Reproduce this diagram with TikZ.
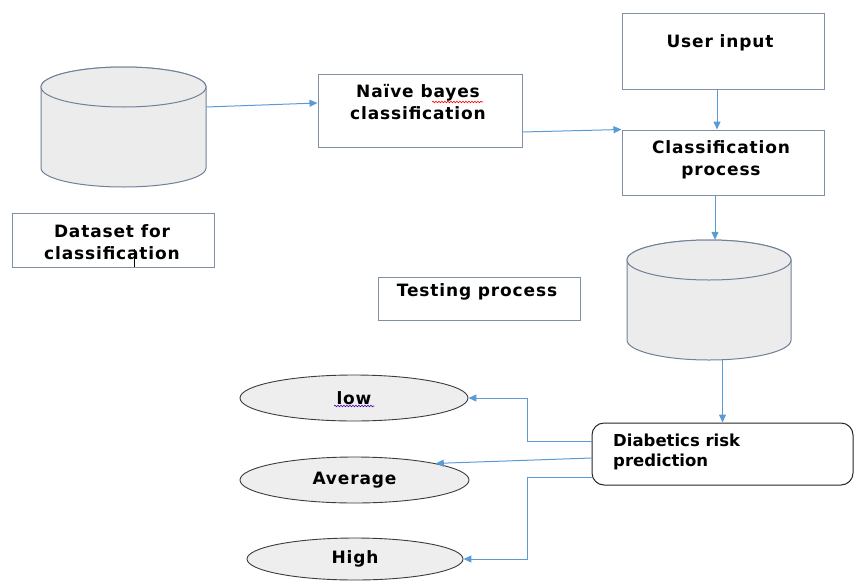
\documentclass[tikz,border=0pt]{standalone}
\usepackage{fontspec}
\newfontfamily\dfont{DejaVu Sans}[LetterSpace=5]
\newfontfamily\dfontn{DejaVu Sans}
\usetikzlibrary{arrows.meta,shapes.geometric,decorations.pathmorphing,calc}
\definecolor{boxc}{RGB}{128,143,165}
\definecolor{arrc}{RGB}{91,155,213}
\definecolor{cylfill}{RGB}{236,236,236}
\definecolor{cylline}{RGB}{112,128,152}
\definecolor{ellfill}{RGB}{238,238,238}
\definecolor{ellline}{RGB}{60,60,60}
\tikzset{
  boxnode/.style={draw=boxc, line width=1pt, fill=white, inner sep=0pt, rectangle},
  txt/.style={font=\dfont\bfseries\fontsize{17}{22}\selectfont, align=center, inner sep=0pt},
  ellnode/.style={ellipse, draw=ellline, fill=ellfill, line width=0.9pt, inner sep=0pt, font=\dfont\bfseries\fontsize{17}{22}\selectfont},
  cyl/.style={draw=cylline, fill=cylfill, line width=1pt},
  arr/.style={draw=arrc, line width=1pt, -{Triangle[length=8pt,width=7pt]}},
  ghost/.style={draw=none, inner sep=0pt, rectangle},
}
\begin{document}
\begin{tikzpicture}[x=1pt,y=-1pt]
\useasboundingbox (0,0) rectangle (856,581);
% cylinder 1
\filldraw[cyl] (41,87) -- (41,168) arc[start angle=180,end angle=360,x radius=82.5pt,y radius=19pt] -- (206,87) arc[start angle=0,end angle=180,x radius=82.5pt,y radius=20pt] -- cycle;
\draw[cyl] (123.5,87) ellipse[x radius=82.5pt,y radius=20pt];
\node[ghost, minimum width=165pt, minimum height=120pt] (c1) at (123.5,127) {};
% cylinder 2
\filldraw[cyl] (627,260) -- (627,340) arc[start angle=180,end angle=360,x radius=82pt,y radius=20pt] -- (791,260) arc[start angle=0,end angle=180,x radius=82pt,y radius=20pt] -- cycle;
\draw[cyl] (709,260) ellipse[x radius=82pt,y radius=20pt];
\node[ghost, minimum width=164pt, minimum height=120pt] (c2) at (709,300) {};
% boxes
\node[boxnode, minimum width=202pt, minimum height=54pt] (ds) at (113,240) {};
\node[txt] (dst) at (112,242) {Dataset for\\classification};
\draw[black, line width=0.9pt] (134,249) -- (134,267);
\node[boxnode, minimum width=204pt, minimum height=73pt] (nb) at (420,110.5) {};
\node[txt] (nbt) at (418,102.5) {Naïve bayes\\classification};
\draw[red, line width=0.6pt, decorate, decoration={snake, amplitude=0.8pt, segment length=3pt}] (432,102) -- (483,102);
\node[boxnode, minimum width=202pt, minimum height=76pt] (ui) at (723,51) {};
\node[txt] (uit) at (720,43) {User input};
\node[boxnode, minimum width=202pt, minimum height=65pt] (cp) at (723,162.5) {};
\node[txt] (cpt) at (721,160) {Classification\\process};
\node[boxnode, minimum width=202pt, minimum height=43pt] (tp) at (479,298.5) {};
\node[txt] (tpt) at (477,292) {Testing process};
\node[draw=black!85, line width=1pt, rounded corners=12pt, fill=white, minimum width=261pt, minimum height=62pt, inner sep=0pt] (dr) at (722.5,454) {};
\node[txt, align=left, anchor=west, font=\dfontn\bfseries\fontsize{16.5}{20}\selectfont] (drt) at (613,452) {Diabetics risk\\prediction};
% ellipses
\node[ellnode, minimum width=228pt, minimum height=46pt] (low) at (354,398) {low};
\draw[blue!70!red, line width=0.6pt, decorate, decoration={snake, amplitude=0.8pt, segment length=3pt}] (334,406) -- (374,406);
\node[ellnode, minimum width=229pt, minimum height=46pt] (avg) at (354.5,480) {Average};
\node[ellnode, minimum width=216pt, minimum height=42pt] (high) at (355,559) {High};
% connectors
\draw[arr] ([yshift=20pt]c1.east) -- ([yshift=7.5pt]nb.west);
\draw[arr] ([yshift=-21.5pt]nb.east) -- (cp.north west);
\draw[arr] ([xshift=-6pt]ui.south) -- ([xshift=-6pt]cp.north);
\draw[arr] ([xshift=-8pt]cp.south) -- ([xshift=-8pt]cp.south |- c2.north);
\draw[arr] (dr.north |- c2.south) -- (dr.north);
\draw[arr] ([yshift=13pt]dr.west) -- ++(-64,0) |- (low.east);
\draw[arr] ([yshift=-4pt]dr.west) -- (avg.north east);
\draw[arr] ([yshift=-23pt]dr.west) -- ++(-64,0) |- (high.east);
\end{tikzpicture}
\end{document}
